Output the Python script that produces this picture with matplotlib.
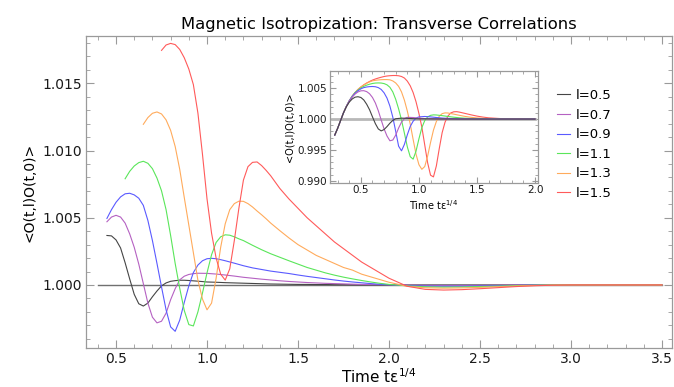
import numpy as np
import matplotlib
matplotlib.use("Agg")
import matplotlib.pyplot as plt
from matplotlib.ticker import MultipleLocator, FormatStrFormatter

# transverse correlation <O(t,l)O(t,0)> vs rescaled time, one curve per l
labels = ["l=0.5", "l=0.7", "l=0.9", "l=1.1", "l=1.3", "l=1.5"]
colors = ["#454545", "#b561c2", "#5a5aff", "#5ae65a", "#ffab5c", "#ff5a5a"]

t_l05 = [0.45, 0.475, 0.5, 0.525, 0.55, 0.575, 0.6, 0.625, 0.65, 0.675, 0.7, 0.725, 0.75, 0.775,
         0.8, 0.825, 0.85, 0.875, 0.9, 0.95, 1.0, 1.05, 1.1, 1.15, 1.2, 1.25, 1.3, 1.35, 1.4]
c_l05 = [1.00368, 1.00365, 1.00335, 1.00275, 1.00165, 1.00045, 0.9993, 0.9986, 0.99843, 0.99865,
         0.99912, 0.99955, 0.99993, 1.00015, 1.00027, 1.00032, 1.00035, 1.00035, 1.00033,
         1.00028, 1.00022, 1.0002, 1.00017, 1.00015, 1.00013, 1.00011, 1.00009, 1.00007, 1.00006]

t_l07 = [0.45, 0.475, 0.5, 0.525, 0.55, 0.575, 0.6, 0.625, 0.65, 0.675, 0.7, 0.725, 0.75, 0.775,
         0.8, 0.825, 0.85, 0.875, 0.9, 0.925, 0.95, 1.0, 1.05, 1.1, 1.15, 1.2, 1.25, 1.3, 1.35, 1.4]
c_l07 = [1.0047, 1.00505, 1.00518, 1.00505, 1.0046, 1.0038, 1.0028, 1.00155, 1.0001, 0.99865,
         0.9976, 0.99718, 0.9973, 0.9979, 0.9989, 0.99972, 1.00038, 1.00065, 1.00078, 1.00084,
         1.00087, 1.00086, 1.00081, 1.00074, 1.00066, 1.00057, 1.0005, 1.00043, 1.00037, 1.00031]

t_l09 = [0.45, 0.475, 0.5, 0.525, 0.55, 0.575, 0.6, 0.625, 0.65, 0.675, 0.7, 0.725, 0.75, 0.775,
         0.8, 0.825, 0.85, 0.875, 0.9, 0.925, 0.95, 0.975, 1.0, 1.025, 1.05, 1.075, 1.1,
         1.15, 1.2, 1.25, 1.3, 1.35, 1.4]
c_l09 = [1.00495, 1.0056, 1.00615, 1.00655, 1.00678, 1.00682, 1.0067, 1.00645, 1.00592, 1.0048,
         1.0033, 1.0016, 0.99985, 0.99815, 0.99688, 0.99655, 0.99738, 0.9987, 0.99993, 1.00092,
         1.00148, 1.0018, 1.00195, 1.00198, 1.00195, 1.00188, 1.0018,
         1.00162, 1.00143, 1.00127, 1.00115, 1.00103, 1.00094]

t_l11 = [0.55, 0.575, 0.6, 0.625, 0.65, 0.675, 0.7, 0.725, 0.75, 0.775, 0.8, 0.825, 0.85, 0.875,
         0.9, 0.925, 0.95, 0.975, 1.0, 1.025, 1.05, 1.075, 1.1, 1.125, 1.15, 1.175, 1.2,
         1.25, 1.3, 1.35, 1.4]
c_l11 = [1.0079, 1.00845, 1.00885, 1.0091, 1.0092, 1.00905, 1.00865, 1.00795, 1.007, 1.0056,
         1.00368, 1.0016, 0.99975, 0.9981, 0.99705, 0.99695, 0.998, 0.9994, 1.0009, 1.00225,
         1.00316, 1.00358, 1.00373, 1.0037, 1.00358, 1.00343, 1.0033,
         1.00295, 1.00262, 1.00232, 1.00206]

t_l13 = [0.65, 0.675, 0.7, 0.725, 0.75, 0.775, 0.8, 0.825, 0.85, 0.875, 0.9, 0.925, 0.95, 0.975,
         1.0, 1.025, 1.05, 1.075, 1.1, 1.125, 1.15, 1.175, 1.2, 1.225, 1.25, 1.275, 1.3, 1.325,
         1.35, 1.375, 1.4]
c_l13 = [1.01195, 1.01245, 1.01277, 1.01287, 1.01272, 1.01228, 1.0115, 1.0103, 1.0086, 1.0065,
         1.00445, 1.0024, 1.00035, 0.99895, 0.99815, 0.99865, 1.0005, 1.0028, 1.00455, 1.0056,
         1.00605, 1.00623, 1.00622, 1.00605, 1.0058, 1.0055, 1.00522, 1.00492, 1.0046, 1.00432,
         1.00404]

t_l15 = [0.75, 0.775, 0.8, 0.825, 0.85, 0.875, 0.9, 0.925, 0.95, 0.975, 1.0, 1.025, 1.05, 1.075,
         1.1, 1.125, 1.15, 1.175, 1.2, 1.225, 1.25, 1.275, 1.3, 1.325, 1.35, 1.375, 1.4]
c_l15 = [1.01745, 1.01785, 1.01797, 1.01788, 1.01752, 1.0169, 1.01606, 1.0149, 1.01278, 1.00972,
         1.0064, 1.00385, 1.002, 1.0008, 1.00036, 1.0012, 1.0033, 1.0057, 1.0078, 1.0088,
         1.00912, 1.00915, 1.00888, 1.00852, 1.00812, 1.00765, 1.00718]

# long-time relaxation, shared time grid
t_tail = [1.45, 1.5, 1.55, 1.6, 1.65, 1.7, 1.75, 1.8, 1.85, 1.9, 1.95, 2.0, 2.05, 2.1,
          2.2, 2.3, 2.4, 2.5, 2.6, 2.7, 2.8, 2.9, 3.0, 3.1, 3.2, 3.3, 3.4, 3.5]
tail_l05 = [1.00005, 1.00004, 1.00004, 1.00003, 1.00003, 1.00002, 1.00002, 1.00001, 1.00001,
            1.00001, 1.0, 1.0, 1.0, 1.0, 1.0, 1.0, 1.0, 1.0, 1.0, 1.0, 1.0, 1.0, 1.0, 1.0,
            1.0, 1.0, 1.0, 1.0]
tail_l07 = [1.00026, 1.00022, 1.00018, 1.00015, 1.00012, 1.0001, 1.00008, 1.00006, 1.00004,
            1.00003, 1.00002, 1.00001, 1.0, 0.99999, 0.99997, 0.99996, 0.99996, 0.99997,
            0.99998, 0.99999, 1.0, 1.0, 1.0, 1.0, 1.0, 1.0, 1.0, 1.0]
tail_l09 = [1.00085, 1.00074, 1.00064, 1.00055, 1.00046, 1.00037, 1.00029, 1.00022, 1.00016,
            1.0001, 1.00005, 1.00002, 1.0, 0.99996, 0.99991, 0.9999, 0.9999, 0.99992, 0.99994,
            0.99997, 0.99999, 1.0, 1.0, 1.0, 1.0, 1.0, 1.0, 1.0]
tail_l11 = [1.0018, 1.00155, 1.0013, 1.0011, 1.0009, 1.00073, 1.00058, 1.00045, 1.00033,
            1.00022, 1.00012, 1.00004, 0.99999, 0.99993, 0.99986, 0.99984, 0.99985, 0.99988,
            0.99991, 0.99995, 0.99998, 1.0, 1.0, 1.0, 1.0, 1.0, 1.0, 1.0]
tail_l13 = [1.0035, 1.003, 1.0026, 1.0022, 1.0019, 1.0016, 1.0013, 1.0011, 1.0008, 1.0006,
            1.0004, 1.0002, 1.00005, 0.9999, 0.99979, 0.99976, 0.99978, 0.99982, 0.99987,
            0.99992, 0.99996, 0.99999, 1.0, 1.0, 1.0, 1.0, 1.0, 1.0]
tail_l15 = [1.0064, 1.0057, 1.005, 1.0044, 1.0038, 1.0032, 1.0027, 1.0022, 1.0017, 1.0013,
            1.0009, 1.0005, 1.0002, 0.9999, 0.99967, 0.99962, 0.99965, 0.99972, 0.9998,
            0.99988, 0.99994, 0.99998, 1.0, 1.0, 1.0, 1.0, 1.0, 1.0]

ref_t = [0.4, 3.5]
ref_c = [1.0, 1.0]

# inset: same quantity, different normalisation
ti_l05 = [0.275, 0.3, 0.325, 0.35, 0.375, 0.4, 0.425, 0.45, 0.475, 0.5, 0.525, 0.55, 0.575, 0.6,
          0.625, 0.65, 0.675, 0.7, 0.725, 0.75, 0.775, 0.8, 0.85, 0.9, 0.95, 1.0,
          1.2, 1.4, 1.6, 1.8, 2.0]
ci_l05 = [0.9974, 0.9985, 0.99975, 1.001, 1.002, 1.00275, 1.00325, 1.00355, 1.00362, 1.0035,
          1.0031, 1.0024, 1.0015, 1.00035, 0.99925, 0.9984, 0.99808, 0.9983, 0.99878, 0.99933,
          0.99978, 1.00005, 1.00015, 1.00012, 1.00006, 1.00003, 1.00001, 1.0, 1.0, 1.0, 1.0]

ti_l07 = [0.275, 0.3, 0.325, 0.35, 0.375, 0.4, 0.425, 0.45, 0.475, 0.5, 0.525, 0.55, 0.575, 0.6,
          0.625, 0.65, 0.675, 0.7, 0.725, 0.75, 0.775, 0.8, 0.825, 0.85, 0.875, 0.9,
          0.95, 1.0, 1.05, 1.1, 1.2, 1.4, 1.6, 1.8, 2.0]
ci_l07 = [0.9974, 0.9985, 0.99975, 1.001, 1.00205, 1.0029, 1.00355, 1.00405, 1.0044, 1.00458,
          1.0046, 1.00445, 1.0041, 1.0035, 1.0026, 1.00135, 0.99985, 0.9984, 0.99725, 0.99648,
          0.9966, 0.9974, 0.99855, 0.9995, 1.00008, 1.00028,
          1.00025, 1.00015, 1.00008, 1.00004, 1.00001, 1.0, 1.0, 1.0, 1.0]

ti_l09 = [0.275, 0.3, 0.325, 0.35, 0.375, 0.4, 0.425, 0.45, 0.475, 0.5, 0.525, 0.55, 0.575, 0.6,
          0.625, 0.65, 0.675, 0.7, 0.725, 0.75, 0.775, 0.8, 0.825, 0.85, 0.875, 0.9, 0.925,
          0.95, 0.975, 1.0, 1.05, 1.1, 1.15, 1.2, 1.3, 1.4, 1.6, 1.8, 2.0]
ci_l09 = [0.9974, 0.9985, 0.99975, 1.001, 1.00205, 1.00295, 1.00365, 1.0042, 1.0046, 1.0049,
          1.0051, 1.0052, 1.00526, 1.00528, 1.00524, 1.0051, 1.0048, 1.00425, 1.0034, 1.0021,
          1.0003, 0.998, 0.9956, 0.99485, 0.9959, 0.99745, 0.9988, 0.99965, 1.00015, 1.00035,
          1.00042, 1.00035, 1.00025, 1.00016, 1.00006, 1.00002, 1.0, 1.0, 1.0]

ti_l11 = [0.275, 0.3, 0.325, 0.35, 0.375, 0.4, 0.425, 0.45, 0.475, 0.5, 0.525, 0.55, 0.575, 0.6,
          0.625, 0.65, 0.675, 0.7, 0.725, 0.75, 0.775, 0.8, 0.825, 0.85, 0.875, 0.9, 0.925,
          0.95, 0.975, 1.0, 1.025, 1.05, 1.075, 1.1, 1.125,
          1.15, 1.2, 1.25, 1.3, 1.35, 1.4, 1.5, 1.6, 1.8, 2.0]
ci_l11 = [0.9974, 0.9985, 0.99975, 1.001, 1.00205, 1.00295, 1.0037, 1.0043, 1.0047, 1.00505,
          1.0053, 1.0055, 1.00565, 1.00577, 1.00584, 1.00586, 1.00584, 1.00575, 1.00555, 1.00515,
          1.0044, 1.0032, 1.00165, 0.99985, 0.9977, 0.9955, 0.9939, 0.9935, 0.9948, 0.9968,
          0.9986, 0.99975, 1.00035, 1.0006, 1.00068,
          1.00066, 1.00055, 1.00042, 1.0003, 1.0002, 1.00013, 1.00005, 1.00002, 1.0, 1.0]

ti_l13 = [0.275, 0.3, 0.325, 0.35, 0.375, 0.4, 0.425, 0.45, 0.475, 0.5, 0.525, 0.55, 0.575, 0.6,
          0.625, 0.65, 0.675, 0.7, 0.725, 0.75, 0.775, 0.8, 0.825, 0.85, 0.875, 0.9, 0.925,
          0.95, 0.975, 1.0, 1.025, 1.05, 1.075, 1.1, 1.125, 1.15, 1.175, 1.2, 1.225, 1.25,
          1.3, 1.35, 1.4, 1.45, 1.5, 1.6, 1.7, 1.8, 2.0]
ci_l13 = [0.9974, 0.9985, 0.99975, 1.001, 1.00205, 1.00295, 1.0037, 1.0043, 1.0048, 1.0052,
          1.00552, 1.0058, 1.00602, 1.0062, 1.00628, 1.00634, 1.00638, 1.0064, 1.0064, 1.00636,
          1.00618, 1.00585, 1.0053, 1.0044, 1.00305, 1.0013, 0.9992, 0.9967, 0.9943, 0.9926,
          0.99185, 0.9923, 0.994, 0.9962, 0.9982, 0.9996, 1.00045, 1.00088, 1.001, 1.00098,
          1.0008, 1.0006, 1.00042, 1.00028, 1.00018, 1.00007, 1.00002, 1.0, 1.0]

ti_l15 = [0.275, 0.3, 0.325, 0.35, 0.375, 0.4, 0.425, 0.45, 0.475, 0.5, 0.525, 0.55, 0.575, 0.6,
          0.625, 0.65, 0.675, 0.7, 0.725, 0.75, 0.775, 0.8, 0.825, 0.85, 0.875, 0.9, 0.925,
          0.95, 0.975, 1.0, 1.025, 1.05, 1.075, 1.1, 1.125, 1.15, 1.175, 1.2, 1.225, 1.25,
          1.275, 1.3, 1.325, 1.35, 1.4, 1.45, 1.5, 1.55, 1.6, 1.7, 1.8, 1.9, 2.0]
ci_l15 = [0.9974, 0.9985, 0.99975, 1.001, 1.00205, 1.00295, 1.0037, 1.0043, 1.0048, 1.0052,
          1.00555, 1.00585, 1.0061, 1.00632, 1.0065, 1.00665, 1.00678, 1.0069, 1.00698, 1.00703,
          1.00706, 1.00706, 1.00702, 1.0069, 1.00665, 1.00615, 1.0054, 1.0043, 1.0028, 1.0009,
          0.9987, 0.9958, 0.9929, 0.9909, 0.99062, 0.9924, 0.9952, 0.9978, 0.9995, 1.0005,
          1.001, 1.00118, 1.0012, 1.00112, 1.0009, 1.00068, 1.00048, 1.00032, 1.0002, 1.00008,
          1.00003, 1.00001, 1.0]

iref_t = [0.25, 2.0]
iref_c = [1.0, 1.0]

main_t = [t_l05, t_l07, t_l09, t_l11, t_l13, t_l15]
main_c = [c_l05, c_l07, c_l09, c_l11, c_l13, c_l15]
main_tail = [tail_l05, tail_l07, tail_l09, tail_l11, tail_l13, tail_l15]
ins_t = [ti_l05, ti_l07, ti_l09, ti_l11, ti_l13, ti_l15]
ins_c = [ci_l05, ci_l07, ci_l09, ci_l11, ci_l13, ci_l15]

plt.rcParams['font.family'] = ['DejaVu Sans']
frame_col = '#9a9a9a'


def style_frame(ax, size, major_len, minor_len):
    for s in ax.spines.values():
        s.set_color(frame_col)
        s.set_linewidth(0.9)
    ax.tick_params(which='both', direction='in', top=True, right=True,
                   color=frame_col, labelsize=size, labelcolor='#1a1a1a', pad=3)
    ax.tick_params(which='major', length=major_len, width=0.8)
    ax.tick_params(which='minor', length=minor_len, width=0.6)


fig = plt.figure(figsize=(6.74, 3.87), dpi=100)
ax = fig.add_axes([0.1276, 0.1008, 0.8694, 0.8062])

ax.plot(ref_t, ref_c, color='#707070', lw=1.0)
for t, c, tail, col, lab in zip(main_t, main_c, main_tail, colors, labels):
    ax.plot(np.concatenate([t, t_tail]), np.concatenate([c, tail]), color=col, lw=0.8, label=lab)

ax.set_xlim(0.335, 3.555)
ax.set_ylim(0.99531, 1.01852)
ax.xaxis.set_major_locator(MultipleLocator(0.5))
ax.xaxis.set_minor_locator(MultipleLocator(0.1))
ax.yaxis.set_major_locator(MultipleLocator(0.005))
ax.yaxis.set_minor_locator(MultipleLocator(0.001))
ax.xaxis.set_major_formatter(FormatStrFormatter('%.1f'))
ax.yaxis.set_major_formatter(FormatStrFormatter('%.3f'))
style_frame(ax, 10, 6, 3)
ax.set_title('Magnetic Isotropization: Transverse Correlations', fontsize=11.8, pad=5)
ax.set_xlabel('Time tε$^{1/4}$', fontsize=11, labelpad=1)
ax.set_ylabel('<O(t,l)O(t,0)>', fontsize=10, labelpad=4)

ax.legend(loc='upper left', bbox_to_anchor=(0.817, 0.787), bbox_transform=fig.transFigure,
          frameon=False, borderpad=0, handlelength=1.0, handletextpad=0.4,
          labelspacing=0.5, fontsize=9.5)

# inset
axi = fig.add_axes([0.4896, 0.5279, 0.3082, 0.2886])
axi.plot(iref_t, iref_c, color='#b8b8b8', lw=2.0)
for t, c, col in reversed(list(zip(ins_t, ins_c, colors))):
    axi.plot(t, c, color=col, lw=0.8)
axi.set_xlim(0.234, 2.023)
axi.set_ylim(0.98968, 1.00779)
axi.xaxis.set_major_locator(MultipleLocator(0.5))
axi.xaxis.set_minor_locator(MultipleLocator(0.1))
axi.yaxis.set_major_locator(MultipleLocator(0.005))
axi.yaxis.set_minor_locator(MultipleLocator(0.001))
axi.xaxis.set_major_formatter(FormatStrFormatter('%.1f'))
axi.yaxis.set_major_formatter(FormatStrFormatter('%.3f'))
style_frame(axi, 7.5, 4, 2)
axi.tick_params(pad=2)
axi.set_xlabel('Time tε$^{1/4}$', fontsize=7, labelpad=2)
axi.set_ylabel('<O(t,l)O(t,0)>', fontsize=7, labelpad=2)

fig.savefig('out.png', dpi=100)
